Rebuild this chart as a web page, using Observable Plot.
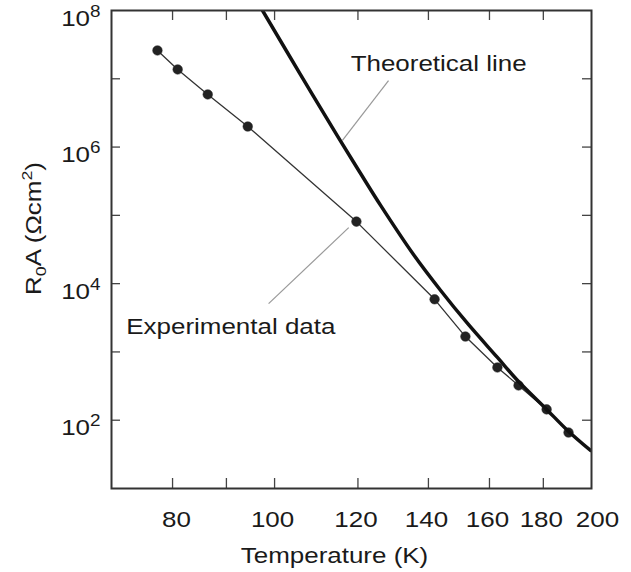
<!DOCTYPE html>
<html>
<head>
<meta charset="utf-8">
<script src="https://cdn.jsdelivr.net/npm/d3@7"></script>
<script src="https://cdn.jsdelivr.net/npm/@observablehq/plot@0.6"></script>
<style>
  html, body { margin: 0; padding: 0; background: #fff; }
  #chart svg { display: block; }
</style>
</head>
<body>
<div id="chart"></div>
<script>
// ---- data ----
const expT = [77.4, 80.9, 86.4, 94.3, 119.6, 141.9, 151.8, 162.8, 170.5, 181.3, 190.2];
const expR = [2.6e7, 1.37e7, 5.9e6, 2.0e6, 8.1e4, 5.9e3, 1.68e3, 592, 323, 144, 66];

const theoT = [97.4, 105.8, 114.8, 120.7, 126.1, 135.5, 143.8, 152.5, 162.8, 170.5, 180.9, 189.8, 199.6];
const theoR = [1e8, 1.16e7, 1.43e6, 4.1e5, 1.4e5, 2.67e4, 7.94e3, 2.61e3, 830, 369, 149, 70.8, 36];

const xTickLabelsFirst = [80];
const xTickLabelsMid = [100, 120, 140, 160, 180];
const xTickLabelsLast = [200];
const xTickMarks = [80, 90, 100, 120, 140, 160, 180];
const yTickLabels = [1e2, 1e4, 1e6, 1e8];
const yTickMarks = [1e2, 1e3, 1e4, 1e5, 1e6, 1e7];

const annNames = ["Theoretical line", "Experimental data"];
const annTextT = [118.1, 72.3];
const annTextR = [1.65e7, 2.35e3];
const leaderFromT = [128.3, 117.6];
const leaderFromR = [9.4e6, 6.6e4];
const leaderToT = [116.0, 98.7];
const leaderToR = [1.25e6, 5.1e3];

const xLabel = "Temperature (K)";
const yLabel = "R0A (Ωcm2)";

// ---- tables ----
const expData = expT.map((t, i) => ({T: t, R: expR[i]}));
const theoData = theoT.map((t, i) => ({T: t, R: theoR[i]}));
const annData = annNames.map((n, i) => ({
  name: n, T: annTextT[i], R: annTextR[i],
  x1: leaderFromT[i], y1: leaderFromR[i], x2: leaderToT[i], y2: leaderToR[i]
}));

const W = 631, H = 572, mT = 10, mB = 84, mL = 111, mR = 40;
const innerH = H - mT - mB, innerW = W - mL - mR;
const FS = 22;
const xAxisOpts = {tickSize: 0, tickPadding: 23, fontSize: FS, label: null, tickFormat: d => String(d)};

const chart = Plot.plot({
  width: W, height: H,
  marginTop: mT, marginBottom: mB, marginLeft: mL, marginRight: mR,
  style: {fontFamily: "'Liberation Sans', Arial, Helvetica, sans-serif", fontSize: FS + "px", color: "#1a1a1a", background: "#fff"},
  x: {type: "log", domain: [70, 200]},
  y: {type: "log", domain: [10, 1e8]},
  marks: [
    // inward tick marks
    Plot.tickX(xTickMarks, {x: d => d, insetTop: innerH - 10, stroke: "#444", strokeWidth: 1.3}),
    Plot.tickX(xTickMarks, {x: d => d, insetBottom: innerH - 10, stroke: "#444", strokeWidth: 1.3}),
    Plot.tickY(yTickMarks, {y: d => d, insetRight: innerW - 9, stroke: "#444", strokeWidth: 1.3}),
    Plot.tickY(yTickMarks, {y: d => d, insetLeft: innerW - 9, stroke: "#444", strokeWidth: 1.3}),
    // axes (labels only)
    Plot.axisX(xTickLabelsFirst, {...xAxisOpts, dx: 4}),
    Plot.axisX(xTickLabelsMid, {...xAxisOpts, dx: -2}),
    Plot.axisX(xTickLabelsLast, {...xAxisOpts, dx: 6}),
    Plot.axisY(yTickLabels, {tickSize: 0, tickPadding: 11, fontSize: FS, label: null, dy: 8,
      tickFormat: d => "10^" + Math.round(Math.log10(d))}),
    // leader lines
    Plot.link(annData, {x1: "x1", y1: "y1", x2: "x2", y2: "y2", stroke: "#999", strokeWidth: 1.2}),
    // experimental
    Plot.line(expData, {x: "T", y: "R", stroke: "#333", strokeWidth: 1.3}),
    Plot.dot(expData, {x: "T", y: "R", r: 4.8, fill: "#222", stroke: "#222", strokeWidth: 0.5}),
    // theoretical
    Plot.line(theoData, {x: "T", y: "R", stroke: "#111", strokeWidth: 3.5, curve: "catmull-rom", clip: true}),
    // annotation texts
    Plot.text(annData, {x: "T", y: "R", text: "name", textAnchor: "start", lineAnchor: "middle", fontSize: FS, fill: "#1a1a1a"}),
    // axis titles
    Plot.text([xLabel], {text: d => d, frameAnchor: "bottom", textAnchor: "middle", lineAnchor: "middle", dx: -17, dy: 67, fontSize: FS, fill: "#1a1a1a"}),
    Plot.text([yLabel], {text: d => d, frameAnchor: "left", textAnchor: "middle", lineAnchor: "middle", rotate: -90, dx: -78, dy: -21, fontSize: FS, fill: "#1a1a1a"}),
    Plot.frame({stroke: "#333", strokeWidth: 2})
  ]
});

document.getElementById("chart").appendChild(chart);

const NS = "http://www.w3.org/2000/svg";
function addSpans(t, parts) {
  t.textContent = "";
  parts.forEach(([txt, fs, dy]) => {
    const ts = document.createElementNS(NS, "tspan");
    ts.textContent = txt;
    if (fs) ts.setAttribute("font-size", fs);
    if (dy) ts.setAttribute("dy", dy);
    t.appendChild(ts);
  });
}
chart.querySelectorAll("text").forEach(t => {
  const s = t.textContent;
  const m = s.match(/^10\^(\d+)$/);
  if (m) addSpans(t, [["10", null, null], [m[1], "16", "-9"]]);
  else if (s === yLabel) addSpans(t, [["R", null, null], ["0", "15", "5"], ["A (Ωcm", null, "-5"], ["2", "15", "-9"], [")", null, "9"]]);
  // the reference's lettering is horizontally wider than Arial: stretch glyphs along the baseline
  const tr = t.getAttribute("transform");
  if (tr !== null) t.setAttribute("transform", tr + " scale(1.18,1)");
});
</script>
</body>
</html>
